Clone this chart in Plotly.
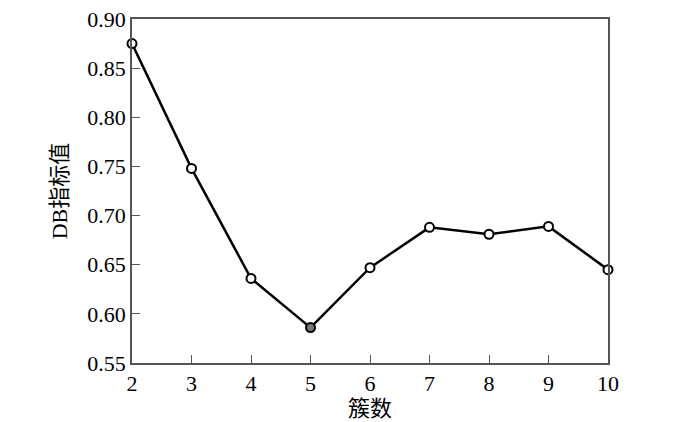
import plotly.graph_objects as go

clusters = [2, 3, 4, 5, 6, 7, 8, 9, 10]
db_index = [0.875, 0.748, 0.636, 0.586, 0.647, 0.688, 0.681, 0.689, 0.645]
marker_fill = ["white", "white", "white", "#777777", "white", "white", "white", "white", "white"]

y_ticks = [0.55, 0.60, 0.65, 0.70, 0.75, 0.80, 0.85, 0.90]
y_tick_labels = ["0.55", "0.60", "0.65", "0.70", "0.75", "0.80", "0.85", "0.90"]

font_family = "Liberation Serif, Times New Roman, Noto Sans CJK SC, serif"

fig = go.Figure()
fig.add_trace(go.Scatter(
    x=clusters, y=db_index, mode="lines+markers",
    line=dict(color="black", width=2.5),
    marker=dict(symbol="circle", size=9, color=marker_fill,
                line=dict(color="black", width=2)),
    cliponaxis=False, showlegend=False,
))

axis_common = dict(
    showline=True, linecolor="#555555", linewidth=1.5, mirror=True,
    ticks="inside", ticklen=8, tickwidth=1.2, tickcolor="#555555",
    showgrid=False, zeroline=False, automargin=False,
    ticklabeloverflow="allow",
    tickfont=dict(family=font_family, size=22, color="black"),
)

fig.update_layout(
    width=692, height=414,
    margin=dict(l=124, r=92, t=11, b=59),
    paper_bgcolor="white", plot_bgcolor="white",
    xaxis=dict(range=[2, 10], tickvals=clusters, ticktext=[str(c) for c in clusters],
               title=dict(text="簇数", font=dict(family=font_family, size=22, color="black"), standoff=4),
               **axis_common),
    yaxis=dict(range=[0.55, 0.90], tickvals=y_ticks, ticktext=y_tick_labels,
               title=dict(text="DB指标值", font=dict(family=font_family, size=22, color="black"), standoff=14),
               **axis_common),
)

fig.write_html("out.html")
